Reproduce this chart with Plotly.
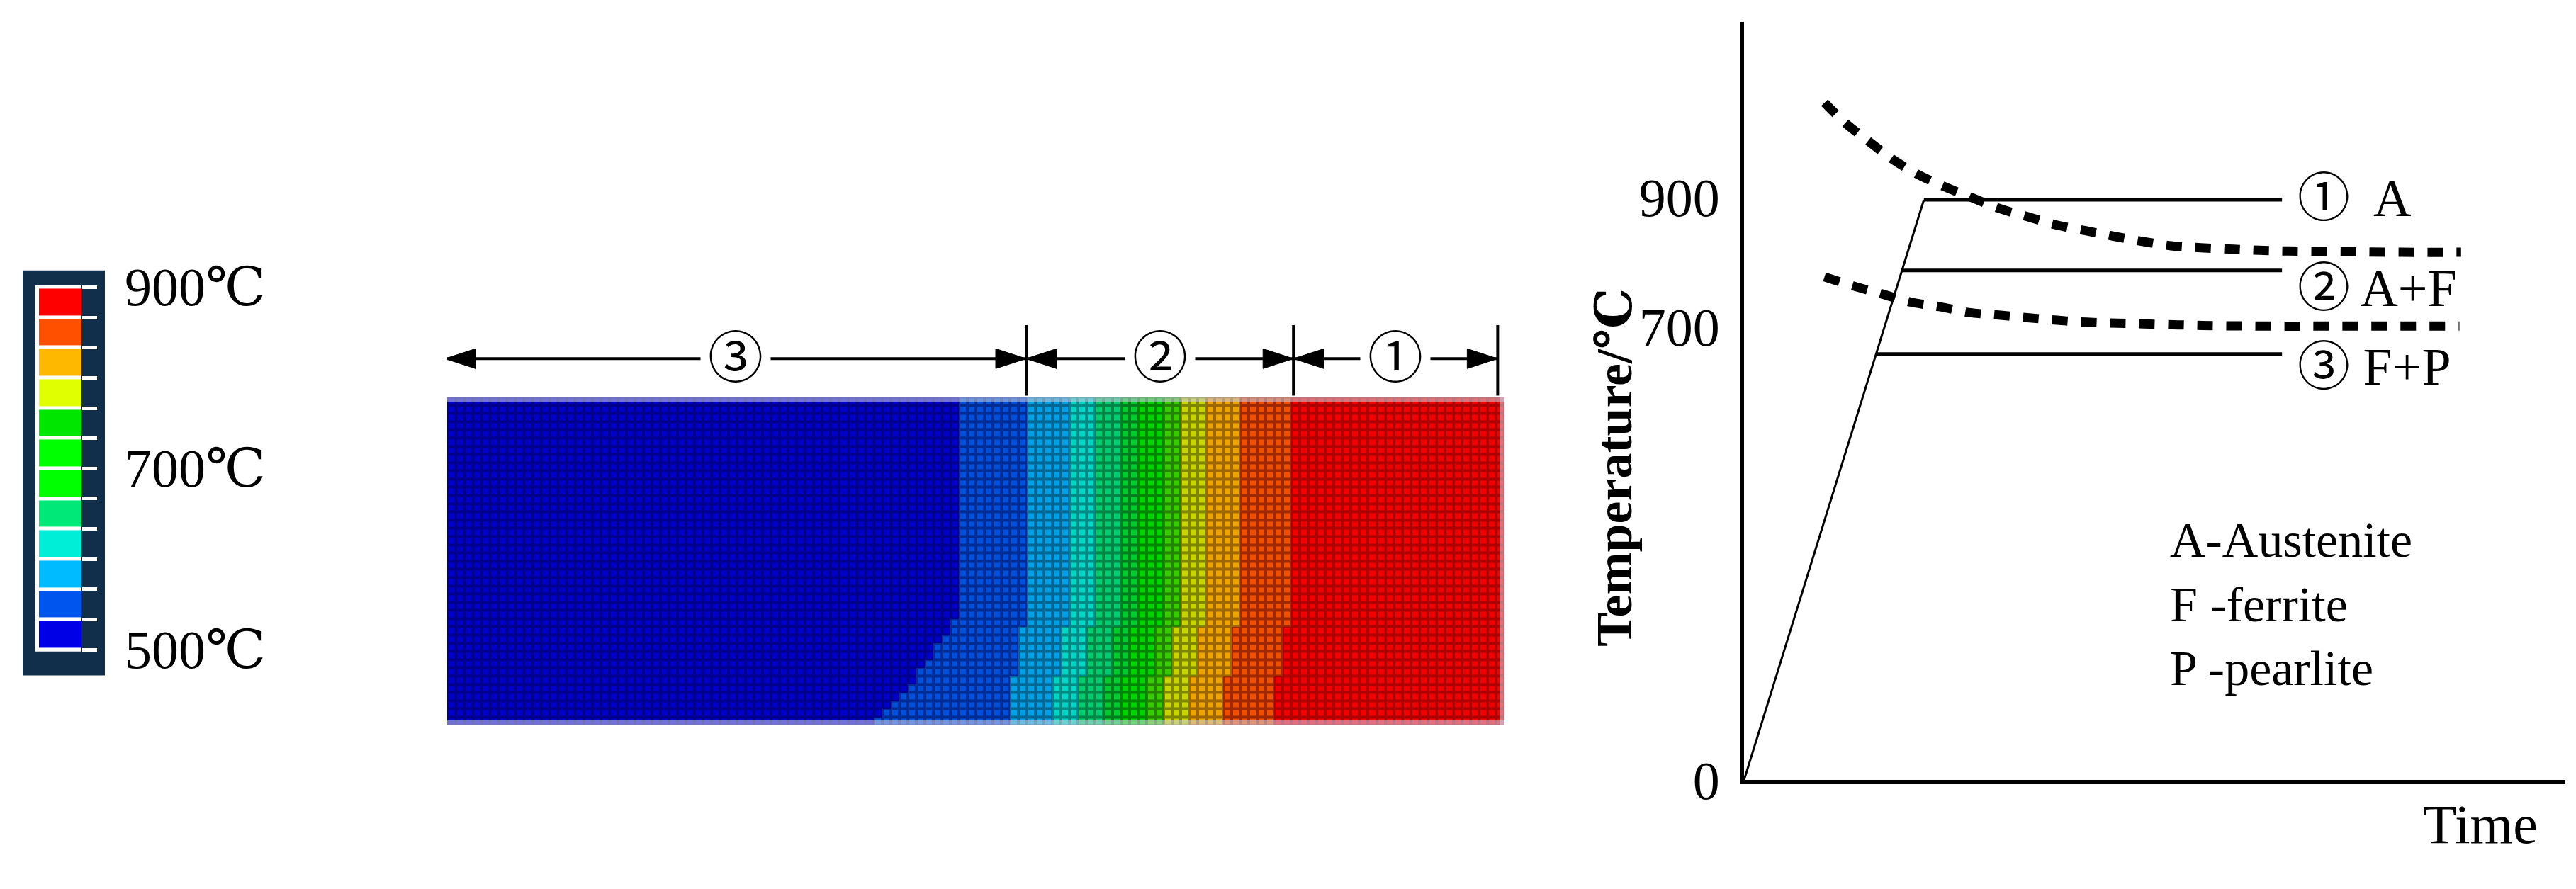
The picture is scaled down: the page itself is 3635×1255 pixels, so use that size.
import plotly.graph_objects as go

W, H = 3635, 1255
def px(x): return x / W
def py(y): return 1 - y / H

SERIF = "Liberation Serif, DejaVu Serif, Noto Sans CJK SC"

# ---------------- colour levels (500 °C -> 900 °C, 12 bands) ----------------
level_colors = ["#0000E6", "#0055EE", "#00BBFF", "#00EED8", "#00E878", "#00FF00",
                "#00FF00", "#00E600", "#E0FF00", "#FFB800", "#FF5000", "#FF0000"]
mesh_bright = ["#0000C8", "#0050DC", "#00A0E6", "#00D6C6", "#00CC70", "#00CC30",
               "#00D400", "#38CC00", "#C8D400", "#EEA400", "#EE5000", "#F00000"]
mesh_dark = ["#00008C", "#002C96", "#006694", "#008A86", "#008646", "#007E1E",
             "#008600", "#228400", "#7E8600", "#9E6600", "#A02800", "#AE0000"]
cbar_labels = ["900℃", "700℃", "500℃"]
cbar_label_pos = [11.5, 5.5, -0.5]

# ---------------- temperature field (mesh of 124 x 40 elements) ----------------
n_cols, n_rows = 124, 40
level_start_cols = [0, 60, 68, 73, 76, 79, 81, 84, 86, 89, 93, 99]
blue_edge_by_row = [60] * 27 + [59, 59, 58, 57, 57, 56, 55, 55, 54, 53, 52, 51, 50]
band_shift_by_row = [0] * 28 + [1] * 6 + [2] * 6

# zone boundaries along the bar (mesh column units) and zone names
zone_edges = [-0.75, 67.4, 98.75, 122.7]
zone_names = ["③", "②", "①"]

# ---------------- heat-treatment schematic ----------------
ramp_t = [0, 21.9]
ramp_T = [0, 896]
hold_T = [896, 787, 658]
hold_end_t = 65.5
hold_names = ["①  A", "② A+F", "③ F+P"]
upper_t = [9.8, 12.3, 15.0, 17.8, 20.6, 23.9, 27.8, 31.0, 34.5, 38.1, 41.7, 44.9,
           48.4, 52.0, 55.6, 59.1, 62.7, 66.3, 73.1, 80.0, 87.3]
upper_T = [1046, 1015, 988, 961, 939, 919, 899, 883, 870, 857, 848, 840,
           832, 825, 822, 820, 818, 817, 816, 815, 815]
lower_t = [9.8, 13.3, 16.7, 20.3, 23.8, 27.4, 31.0, 34.5, 38.1, 41.7, 47.2, 55.8,
           64.5, 73.1, 87.1]
lower_T = [777, 763, 751, 738, 731, 722, 718, 714, 710, 707, 705, 702, 701, 701, 701]
y_ticks = [0, 700, 900]
legend_lines = ["A-Austenite", "F -ferrite", "P -pearlite"]


def discrete_scale(colors):
    n = len(colors)
    sc = []
    for i, c in enumerate(colors):
        sc += [[i / n, c], [(i + 1) / n, c]]
    return sc


def level_at(col):
    lvl = 0
    for i, s in enumerate(level_start_cols):
        if col >= s:
            lvl = i
    return lvl


z = []
for r in range(n_rows):
    row = []
    for c in range(n_cols):
        if c < blue_edge_by_row[r]:
            row.append(0)
        else:
            row.append(max(1, level_at(c + band_shift_by_row[r])))
    z.append(row)

nlev = len(level_colors)
fig = go.Figure()

# mesh: dark under-layer + bright elements with gaps
fig.add_trace(go.Heatmap(z=z, colorscale=discrete_scale(mesh_dark), zmin=-0.5,
                         zmax=nlev - 0.5, showscale=False, xaxis="x", yaxis="y",
                         hoverinfo="skip"))
fig.add_trace(go.Heatmap(z=z, colorscale=discrete_scale(mesh_bright), zmin=-0.5,
                         zmax=nlev - 0.5, showscale=False, xaxis="x", yaxis="y",
                         xgap=4, ygap=4, hoverinfo="skip"))

# colour legend bar
fig.add_trace(go.Heatmap(z=[[i] for i in range(nlev)], x=[0], y=list(range(nlev)),
                         colorscale=discrete_scale(level_colors), zmin=-0.5,
                         zmax=nlev - 0.5, showscale=False, xaxis="x2", yaxis="y2",
                         ygap=5, hoverinfo="skip"))

# schematic lines
fig.add_trace(go.Scatter(x=ramp_t, y=ramp_T, mode="lines", xaxis="x3", yaxis="y3",
                         line=dict(color="black", width=3), hoverinfo="skip"))
for T in hold_T:
    t0 = ramp_t[1] * T / ramp_T[1]
    fig.add_trace(go.Scatter(x=[t0, hold_end_t], y=[T, T], mode="lines",
                             xaxis="x3", yaxis="y3",
                             line=dict(color="black", width=5), hoverinfo="skip"))
for tt, TT in [(upper_t, upper_T), (lower_t, lower_T)]:
    fig.add_trace(go.Scatter(x=tt, y=TT, mode="lines", xaxis="x3", yaxis="y3",
                             line=dict(color="black", width=13, dash="22px,19px",
                                       shape="spline"),
                             hoverinfo="skip"))

shapes = []
annotations = []

# colour bar box
shapes.append(dict(type="rect", xref="paper", yref="paper", x0=px(24), x1=px(140),
                   y0=py(979), y1=py(387), fillcolor="#112F4B", line=dict(width=0),
                   layer="below"))
shapes.append(dict(type="rect", xref="paper", yref="paper", x0=px(41), x1=px(107),
                   y0=py(944), y1=py(409), fillcolor="white", line=dict(width=0),
                   layer="below"))
for txt, v in zip(cbar_labels, cbar_label_pos):
    annotations.append(dict(text=txt, xref="paper", yref="y2", x=px(166), y=v,
                            xanchor="left", yanchor="middle", showarrow=False,
                            font=dict(family=SERIF, size=76, color="black")))

# soft border of the bar
edge = "rgba(205,205,225,0.55)"
shapes.append(dict(type="line", xref="paper", yref="paper", x0=px(623), x1=px(2115),
                   y0=py(575.5), y1=py(575.5), line=dict(color=edge, width=7)))
shapes.append(dict(type="line", xref="paper", yref="paper", x0=px(623), x1=px(2115),
                   y0=py(1048.5), y1=py(1048.5), line=dict(color=edge, width=7)))
shapes.append(dict(type="line", xref="paper", yref="paper", x0=px(2111.5), x1=px(2111.5),
                   y0=py(1052), y1=py(572), line=dict(color=edge, width=7)))

# dimension arrows above the bar
ya = py(516)
for e in zone_edges:
    shapes.append(dict(type="line", xref="x", yref="paper", x0=e, x1=e,
                       y0=py(570), y1=py(467), line=dict(color="black", width=4)))
for i, name in enumerate(zone_names):
    a, b = zone_edges[i], zone_edges[i + 1]
    shapes.append(dict(type="line", xref="x", yref="paper", x0=a, x1=b, y0=ya, y1=ya,
                       line=dict(color="black", width=4)))
    shapes.append(dict(type="path", xref="x", yref="paper", xsizemode="pixel",
                       ysizemode="pixel", xanchor=a, yanchor=ya,
                       path="M 0,0 L 43,14 L 43,-14 Z", fillcolor="black",
                       line=dict(color="black", width=1)))
    shapes.append(dict(type="path", xref="x", yref="paper", xsizemode="pixel",
                       ysizemode="pixel", xanchor=b, yanchor=ya,
                       path="M 0,0 L -43,14 L -43,-14 Z", fillcolor="black",
                       line=dict(color="black", width=1)))
    annotations.append(dict(text=name, xref="x", yref="paper", x=(a + b) / 2, y=ya,
                            xanchor="center", yanchor="middle", showarrow=False,
                            bgcolor="white", width=98, borderpad=0,
                            font=dict(family=SERIF, size=78, color="black")))

# schematic texts
yshifts = [2, -25, -18]
for T, name, ys in zip(hold_T, hold_names, yshifts):
    annotations.append(dict(text=name, xref="x3", yref="y3", x=67.2, y=T,
                            xanchor="left", yanchor="middle", showarrow=False,
                            yshift=ys, font=dict(family=SERIF, size=74, color="black")))
for txt, yy in zip(legend_lines, [781, 875, 969]):
    annotations.append(dict(text=txt, xref="paper", yref="paper", x=px(3052), y=py(yy),
                            xanchor="left", yanchor="middle", showarrow=False,
                            font=dict(family=SERIF, size=70, color="black")))
annotations.append(dict(text="Time", xref="paper", yref="paper", x=px(3492), y=py(1196),
                        xanchor="center", yanchor="middle", showarrow=False,
                        font=dict(family=SERIF, size=78, color="black")))
annotations.append(dict(text="<b>Temperature/℃</b>", xref="paper", yref="paper",
                        x=px(2270), y=py(675), xanchor="center", yanchor="middle",
                        showarrow=False, textangle=-90,
                        font=dict(family=SERIF, size=72, color="black")))

hidden = dict(visible=False, showgrid=False, zeroline=False)
fig.update_layout(
    width=W, height=H, margin=dict(l=0, r=0, t=0, b=0),
    paper_bgcolor="white", plot_bgcolor="rgba(0,0,0,0)", showlegend=False,
    xaxis=dict(domain=[px(623), px(2115)], range=[-0.5, n_cols - 0.5], **hidden),
    yaxis=dict(domain=[py(1052), py(572)], range=[n_rows - 0.5, -0.5], **hidden),
    xaxis2=dict(domain=[px(47), px(107)], range=[-0.5, 0.5], anchor="y2", **hidden),
    yaxis2=dict(domain=[py(941.5), py(411.5)], range=[-0.5, nlev - 0.5], anchor="x2",
                side="right", showgrid=False, zeroline=False, showline=False,
                showticklabels=False, ticks="outside", ticklen=21, tickwidth=5,
                tickcolor="white", tickvals=[i - 0.5 for i in range(nlev + 1)]),
    xaxis3=dict(domain=[px(2453), px(3612)], range=[0, 100], anchor="y3",
                showgrid=False, zeroline=False, showline=True, linewidth=6,
                linecolor="black", showticklabels=False, ticks=""),
    yaxis3=dict(domain=[py(1132), py(24)], range=[0, 1170.4], anchor="x3",
                showgrid=False, zeroline=False, showline=True, linewidth=5,
                linecolor="black", ticks="", tickvals=y_ticks,
                ticklabelstandoff=14,
                tickfont=dict(family=SERIF, size=76, color="black")),
    shapes=shapes, annotations=annotations,
)

fig.write_html("out.html")
